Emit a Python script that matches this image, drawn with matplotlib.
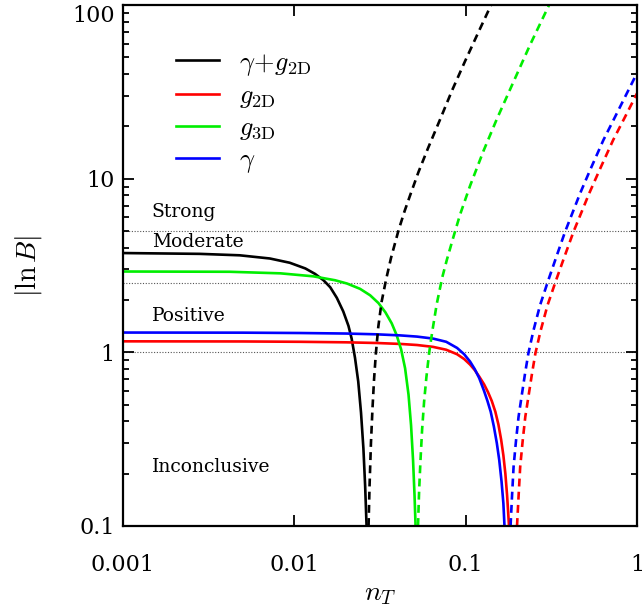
import numpy as np
import matplotlib
matplotlib.use('Agg')
import matplotlib.pyplot as plt
from matplotlib.ticker import LogLocator, NullLocator, NullFormatter

plt.rcParams['mathtext.fontset'] = 'cm'
plt.rcParams['font.family'] = 'DejaVu Serif'

# values
# solid = ln B > 0, dashed = ln B < 0 (plotted as |ln B|)
black_solid_x = [0.001, 0.0028, 0.0048, 0.0072, 0.0094, 0.0116, 0.0132, 0.0148, 0.0162, 0.0177,
                 0.0193, 0.0207, 0.0216, 0.0226, 0.0236, 0.0245, 0.0253, 0.0259, 0.0264]
black_solid_y = [3.73, 3.69, 3.62, 3.47, 3.28, 3.04, 2.83, 2.60, 2.37, 2.06,
                 1.72, 1.42, 1.20, 0.93, 0.68, 0.45, 0.28, 0.17, 0.10]
black_dash_x = [0.02711, 0.02748, 0.0280, 0.0286, 0.0292, 0.0299, 0.0309, 0.0323, 0.0343, 0.03668,
                0.04058, 0.0440, 0.04736, 0.0530, 0.06033, 0.07088, 0.08328, 0.0992, 0.1181, 0.1407]
black_dash_y = [0.10, 0.17, 0.30, 0.48, 0.70, 0.98, 1.40, 1.95, 2.62, 3.50,
                5.05, 6.50, 8.0, 10.9, 15.0, 21.9, 32.2, 47.5, 69.0, 100.0]

green_solid_x = [0.001, 0.0042, 0.0083, 0.0129, 0.0173, 0.0203, 0.0242, 0.0277, 0.0310, 0.0340,
                 0.0370, 0.0395, 0.0420, 0.0443, 0.0464, 0.0480, 0.0493, 0.0503, 0.0510]
green_solid_y = [2.92, 2.91, 2.85, 2.74, 2.60, 2.49, 2.32, 2.13, 1.92, 1.70,
                 1.47, 1.26, 1.04, 0.81, 0.57, 0.38, 0.24, 0.15, 0.10]
green_dash_x = [0.0527, 0.0535, 0.0545, 0.0557, 0.0572, 0.0590, 0.0612, 0.0637, 0.0678, 0.0730,
                0.0776, 0.0850, 0.0927, 0.1061, 0.1269, 0.1519, 0.1899, 0.2377, 0.3068]
green_dash_y = [0.10, 0.16, 0.24, 0.36, 0.52, 0.72, 0.99, 1.30, 1.90, 2.70,
                3.40, 4.65, 6.20, 9.10, 14.4, 22.0, 36.0, 59.0, 100.0]

blue_solid_x = [0.001, 0.005, 0.0108, 0.020, 0.030, 0.0414, 0.052, 0.0645, 0.0770, 0.0891, 0.0980,
                0.1061, 0.1130, 0.1200, 0.1280, 0.1340, 0.1400, 0.1460, 0.1520, 0.1570, 0.1620,
                0.1660, 0.1685]
blue_solid_y = [1.300, 1.298, 1.292, 1.283, 1.270, 1.252, 1.232, 1.200, 1.150, 1.060, 0.975,
                0.885, 0.800, 0.710, 0.600, 0.525, 0.455, 0.375, 0.300, 0.240, 0.180,
                0.135, 0.10]
blue_dash_x = [0.1828, 0.1866, 0.1904, 0.1969, 0.2036, 0.2135, 0.2222, 0.2323, 0.2484, 0.2719,
               0.3039, 0.3400, 0.3804, 0.4655, 0.5324, 0.6365, 0.7452, 0.8720, 1.0]
blue_dash_y = [0.10, 0.151, 0.2195, 0.313, 0.426, 0.583, 0.757, 0.987, 1.33, 1.872,
               2.608, 3.60, 4.947, 8.23, 11.21, 16.68, 22.72, 30.98, 40.55]

red_solid_x = [0.001, 0.005, 0.0108, 0.020, 0.030, 0.0414, 0.052, 0.0645, 0.0770, 0.0891, 0.0980,
               0.1061, 0.1130, 0.1200, 0.1280, 0.1350, 0.1420, 0.1490, 0.1552, 0.1610, 0.1660,
               0.1705, 0.1745, 0.1770, 0.1790]
red_solid_y = [1.157, 1.155, 1.150, 1.142, 1.132, 1.118, 1.102, 1.075, 1.035, 0.975, 0.915,
               0.850, 0.790, 0.725, 0.655, 0.590, 0.525, 0.455, 0.385, 0.315, 0.255,
               0.200, 0.150, 0.120, 0.10]
red_dash_x = [0.1994, 0.2038, 0.2081, 0.2154, 0.2229, 0.2342, 0.2440, 0.2553, 0.2737, 0.3007,
              0.3373, 0.3790, 0.4260, 0.5260, 0.6043, 0.7256, 0.8525, 1.0]
red_dash_y = [0.10, 0.151, 0.2195, 0.313, 0.426, 0.583, 0.757, 0.987, 1.33, 1.872,
              2.608, 3.60, 4.947, 8.23, 11.21, 16.68, 22.72, 30.98]

# Jeffreys scale thresholds and labels
thresholds = [1.0, 2.5, 5.0]
scale_labels = ['Strong', 'Moderate', 'Positive', 'Inconclusive']
scale_label_y = [6.42, 4.32, 1.62, 0.219]

fig = plt.figure(figsize=(6.42, 6.13), dpi=100)
ax = fig.add_axes([123/642, 1-526/613, 514/642, 521/613])

for t in thresholds:
    ax.axhline(t, color='#555555', lw=0.8, ls=(0, (1, 1.5)), zorder=1)

lw = 1.9
dash = (0, (3, 2))
ax.plot(black_solid_x, black_solid_y, color='black', lw=lw, label=r'$\gamma\!+\!g_{\rm 2D}$')
ax.plot(red_solid_x, red_solid_y, color='red', lw=lw, label=r'$g_{\rm 2D}$')
ax.plot(green_solid_x, green_solid_y, color='#00ee00', lw=lw, label=r'$g_{\rm 3D}$')
ax.plot(blue_solid_x, blue_solid_y, color='blue', lw=lw, label=r'$\gamma$')
ax.plot(black_dash_x, black_dash_y, color='black', lw=lw, ls=dash)
ax.plot(green_dash_x, green_dash_y, color='#00ee00', lw=lw, ls=dash)
ax.plot(red_dash_x, red_dash_y, color='red', lw=lw, ls=dash)
ax.plot(blue_dash_x, blue_dash_y, color='blue', lw=lw, ls=dash)

for lab, yy in zip(scale_labels, scale_label_y):
    ax.text(0.056, yy, lab, transform=ax.get_yaxis_transform(), fontsize=13.5,
            va='center', ha='left')

ax.set_xscale('log')
ax.set_yscale('log')
ax.set_xlim(0.001, 1)
ax.set_ylim(0.1, 100)

ax.set_xticks([0.001, 0.01, 0.1, 1])
ax.set_xticklabels(['0.001', '0.01', '0.1', '1'])
ax.xaxis.set_minor_locator(NullLocator())
ax.set_yticks([0.1, 1, 10, 100])
ax.set_yticklabels(['0.1', '1', '10', '100'])
ax.yaxis.set_minor_locator(LogLocator(base=10, subs=np.arange(2, 10)))
ax.yaxis.set_minor_formatter(NullFormatter())

ax.tick_params(which='both', direction='in', top=True, right=True, width=1.3, labelsize=16)
ax.tick_params(which='major', length=8)
ax.tick_params(which='minor', length=4)
ax.tick_params(axis='x', pad=20)
ax.tick_params(axis='y', pad=6)
ax.get_yticklabels()[-1].set_va('top')
for s in ax.spines.values():
    s.set_linewidth(1.6)

ax.set_xlabel(r'$n_T$', fontsize=20, labelpad=3)
ax.set_ylabel(r'$|\ln B|$', fontsize=20, labelpad=20)

leg = ax.legend(loc='upper left', bbox_to_anchor=(0.056, 0.96), frameon=False, fontsize=19,
                handlelength=1.65, handletextpad=0.75, labelspacing=0.2)

fig.savefig('out.png', dpi=100)
